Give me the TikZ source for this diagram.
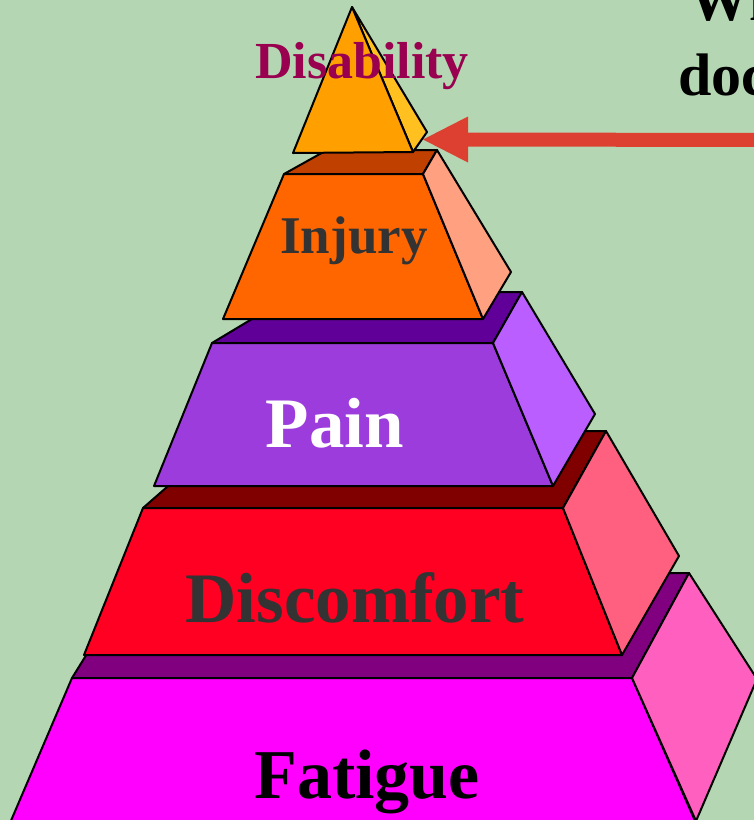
\documentclass[tikz,border=0pt]{standalone}
\usepackage{fontspec}
\setmainfont{Liberation Serif}
\definecolor{bg}{RGB}{180,214,178}
\definecolor{disFront}{RGB}{255,160,0}
\definecolor{disSide}{RGB}{255,192,32}
\definecolor{injTop}{RGB}{192,64,0}
\definecolor{injFront}{RGB}{255,102,0}
\definecolor{injSide}{RGB}{255,160,128}
\definecolor{painTop}{RGB}{96,0,153}
\definecolor{painFront}{RGB}{156,60,220}
\definecolor{painSide}{RGB}{187,94,255}
\definecolor{discTop}{RGB}{128,0,0}
\definecolor{discFront}{RGB}{255,0,34}
\definecolor{discSide}{RGB}{255,96,128}
\definecolor{fatTop}{RGB}{128,0,128}
\definecolor{fatFront}{RGB}{255,0,255}
\definecolor{fatSide}{RGB}{255,96,192}
\definecolor{disText}{RGB}{153,0,80}
\definecolor{grayText}{RGB}{51,51,51}
\definecolor{arrowRed}{RGB}{221,64,48}
\tikzset{
  face/.style={draw=black, line width=2pt, line join=round},
  lbl/.style={anchor=base, inner sep=0pt, font=\bfseries},
}
\begin{document}
\begin{tikzpicture}[x=1pt,y=-1pt]
\useasboundingbox (0,0) rectangle (754,820);
\clip (0,0) rectangle (754,820);
\fill[bg] (0,0) rectangle (754,820);
% Fatigue block
\filldraw[face, fill=fatTop] (72,678) -- (632,678) -- (689,573) -- (137,573) -- cycle;
\filldraw[face, fill=fatFront] (72,678) -- (632,678) -- (696,823) -- (10,823) -- cycle;
\filldraw[face, fill=fatSide] (632,678) -- (689,573) -- (757,679) -- (696,821) -- cycle;
% Discomfort block
\filldraw[face, fill=discTop] (143,508) -- (563,508) -- (606,431) -- (231,431) -- cycle;
\filldraw[face, fill=discFront] (143,508) -- (563,508) -- (622,655) -- (84,655) -- cycle;
\filldraw[face, fill=discSide] (563,508) -- (606,431) -- (679,556) -- (622,655) -- cycle;
% Pain block
\filldraw[face, fill=painTop] (212,343) -- (493,343) -- (522,292) -- (297,292) -- cycle;
\filldraw[face, fill=painFront] (212,343) -- (493,343) -- (553,486) -- (154,486) -- cycle;
\filldraw[face, fill=painSide] (493,343) -- (522,292) -- (595,414) -- (553,486) -- cycle;
% Injury block
\filldraw[face, fill=injTop] (284,174) -- (423,174) -- (437,150) -- (327,150) -- cycle;
\filldraw[face, fill=injFront] (284,174) -- (423,174) -- (483,319) -- (223,319) -- cycle;
\filldraw[face, fill=injSide] (423,174) -- (437,150) -- (511,272) -- (483,319) -- cycle;
% Disability tip
\filldraw[face, fill=disSide] (352,7) -- (427,132) -- (413,152) -- cycle;
\filldraw[face, fill=disFront] (352,7) -- (413,152) -- (293,153) -- cycle;
% labels
\node[lbl, text=disText, font=\bfseries\fontsize{52}{60}\selectfont] (tDis) at (362,78) {Disability};
\node[lbl, text=grayText, font=\bfseries\fontsize{53}{60}\selectfont] (tInj) at (354,253) {Injury};
\node[lbl, text=white, font=\bfseries\fontsize{71}{80}\selectfont] (tPain) at (335,447) {Pain};
\node[lbl, text=grayText, font=\bfseries\fontsize{71}{80}\selectfont] (tDisc) at (355,622) {Discomfort};
\node[lbl, text=black, font=\bfseries\fontsize{70}{80}\selectfont] (tFat) at (367,798) {Fatigue};
% top-right text (cut by the frame, as in the reference)
\node[lbl, anchor=base west, font=\bfseries\fontsize{60}{70}\selectfont] (q1) at (689,20) {Wh};
\node[lbl, anchor=base west, font=\bfseries\fontsize{60}{70}\selectfont] (q2) at (678,95) {doc};
% arrow
\coordinate (aStart) at (770,140);
\coordinate (aBase) at (468,139.5);
\coordinate (aTip) at (423,139.5);
\draw[arrowRed, line width=14pt] (aStart) -- (aBase);
\fill[arrowRed] (aTip) -- ([yshift=23pt]aBase) -- ([yshift=-23pt]aBase) -- cycle;
\end{tikzpicture}
\end{document}
